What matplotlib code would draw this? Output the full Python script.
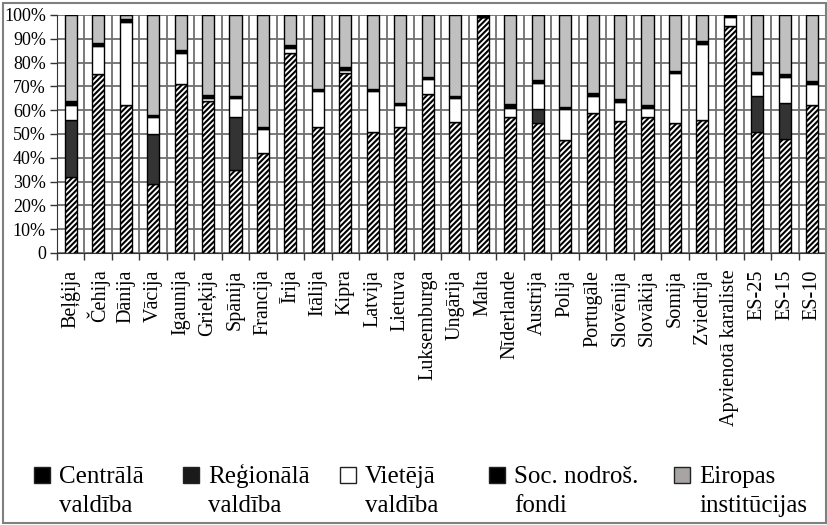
import numpy as np
import matplotlib; matplotlib.use("Agg")
import matplotlib.pyplot as plt
from matplotlib.patches import Rectangle

plt.rcParams["font.family"] = ["Liberation Serif", "DejaVu Serif"]
plt.rcParams["hatch.linewidth"] = 1.5

countries = ["Beļģija", "Čehija", "Dānija", "Vācija", "Igaunija", "Grieķija", "Spānija",
             "Francija", "Īrija", "Itālija", "Kipra", "Latvija", "Lietuva", "Luksemburga",
             "Ungārija", "Malta", "Nīderlande", "Austrija", "Polija", "Portugāle",
             "Slovēnija", "Slovākija", "Somija", "Zviedrija", "Apvienotā karaliste",
             "ES-25", "ES-15", "ES-10"]

# shares in %
central  = [32, 75, 62, 29, 71, 64, 35, 42, 84, 53, 75.5, 51, 53, 67, 55, 99, 57, 54.5,
            47.5, 59, 55.3, 57, 54.5, 56, 95.4, 51, 48, 62]
regional = [24, 0, 0, 21, 0, 0, 22, 0, 0, 0, 0, 0, 0, 0, 0, 0, 0, 6,
            0, 0, 0, 0, 0, 0, 0, 15, 15, 0]
local    = [6, 12, 35, 7, 13, 1, 8, 10, 2, 15, 1.5, 17, 9, 6, 10, 0, 4, 11,
            13, 7, 8, 4, 21, 32, 3.6, 9, 11, 9]
social   = [1.7, 1.1, 1.5, 1.1, 1.2, 1.2, 1.1, 1.1, 1.2, 1.1, 1, 1.1, 1.1, 1.1, 1, 1, 1.7, 1.1,
            1, 1.1, 1.2, 1.1, 1.1, 1.1, 1, 1.1, 1.1, 1.1]
europe   = [100 - c - r - l - s for c, r, l, s in zip(central, regional, local, social)]

legend_labels = ["Centrālā\nvaldība", "Reģionālā\nvaldība", "Vietējā\nvaldība",
                 "Soc. nodroš.\nfondi", "Eiropas\ninstitūcijas"]

fig = plt.figure(figsize=(8.28, 5.25), dpi=100)
ax = fig.add_axes([57 / 828, 1 - 253 / 525, 769 / 828, 238 / 525])

x = np.arange(len(countries))
w = 0.44
bottom = np.zeros(len(countries))
segs = [(central, "white", "//////"), (regional, "#333333", None), (local, "white", None),
        (social, "black", None), (europe, "#c0c0c0", None)]
for vals, col, hatch in segs:
    v = np.array(vals, float)
    ax.bar(x, v, w, bottom=bottom, color=col, edgecolor="black", linewidth=1.0,
           hatch=hatch, zorder=3)
    bottom += v

ax.set_xlim(-0.5, len(countries) - 0.5)
ax.set_ylim(0, 100)
ax.set_yticks(np.arange(0, 101, 10))
ax.set_yticklabels(["0"] + [f"{t}%" for t in range(10, 101, 10)], fontsize=13)
ax.set_xticks(x)
ax.set_xticklabels(countries, rotation=90, fontsize=14.5)
ax.set_xticks(np.arange(-0.5, len(countries)), minor=True)
ax.tick_params(axis="x", which="major", length=0, pad=12)
ax.tick_params(axis="x", which="minor", length=5, width=1, color="#333333")
ax.tick_params(axis="y", length=5, width=1, color="#333333", pad=3)
ax.grid(axis="y", which="major", color="#707070", linewidth=1.3, zorder=0)
ax.grid(axis="x", which="minor", color="#707070", linewidth=1.3, zorder=0)
ax.set_axisbelow(True)
for sp in ["top", "right"]:
    ax.spines[sp].set_visible(False)
ax.spines["left"].set_color("#333333")
ax.spines["bottom"].set_color("#333333")

# legend drawn by hand (squares + two-line labels)
leg_colors = ["black", "#1a1a1a", "white", "black", "#a8a4a4"]
leg_x = [34, 183, 340, 489, 674]
for lx, col, lab in zip(leg_x, leg_colors, legend_labels):
    fig.patches.append(Rectangle((lx / 828, 1 - 483 / 525), 16 / 828, 16 / 525,
                                 transform=fig.transFigure, facecolor=col,
                                 edgecolor="#222222", linewidth=1))
    line1, line2 = lab.split("\n")
    fig.text((lx + 25) / 828, 1 - 483 / 525, line1, fontsize=18, va="baseline", ha="left")
    fig.text((lx + 25) / 828, 1 - 512 / 525, line2, fontsize=18, va="baseline", ha="left")

# outer frame
fig.patches.append(Rectangle((3 / 828, 2 / 525), 823 / 828, 520 / 525,
                             transform=fig.transFigure, fill=False,
                             edgecolor="#808080", linewidth=1.5))

fig.savefig("out.png", dpi=100)
